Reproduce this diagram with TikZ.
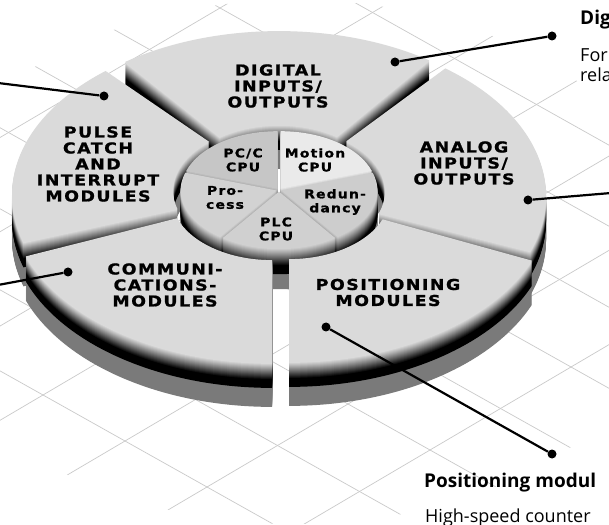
\documentclass[tikz,border=0pt]{standalone}
\usepackage{fontspec}
\setmainfont{Open Sans}
\newfontfamily\lbl[FakeStretch=1.16,LetterSpace=10,FakeBold=1.2]{DejaVu Sans Bold}
\definecolor{topcol}{HTML}{DADADA}
\definecolor{sidecol}{HTML}{E4E4E4}
\definecolor{shadowgray}{HTML}{7A7A7A}
\definecolor{gridcol}{HTML}{CACACA}
\definecolor{pccol}{HTML}{C6C6C6}
\definecolor{motioncol}{HTML}{EAEAEA}
\definecolor{redcol}{HTML}{CDCDCD}
\definecolor{plccol}{HTML}{D0D0D0}
\definecolor{proccol}{HTML}{D2D2D2}
% outer annular sector: #1 start angle, #2 end angle, #3 dx, #4 dy
\newcommand\outerpath[4]{({279+#3+101*cos(#1)},{331.5+#4+63.63*sin(#1)}) -- ({279+#3+262*cos(#1)},{327+#4+161.9*sin(#1)}) arc[start angle=#1,end angle=#2,x radius=262,y radius=161.9] -- ({279+#3+101*cos(#2)},{331.5+#4+63.63*sin(#2)}) arc[start angle=#2,end angle=#1,x radius=101,y radius=63.63] -- cycle}
\newcommand\hubpath[4]{({279+#3},{334+#4}) -- ({279+#3+96*cos(#1)},{334+#4+57.6*sin(#1)}) arc[start angle=#1,end angle=#2,x radius=96,y radius=57.6] -- cycle}
\newcommand\outerslab[5]{%
  \foreach \z in {44,43,...,26}{\fill[shadowgray] \outerpath{#1}{#2}{#3}{(#4)-\z};}
  \foreach \z in {25,24,...,17}{\fill[black] \outerpath{#1}{#2}{#3}{(#4)-\z};}
  \foreach \z in {16,15,...,1}{\pgfmathsetmacro\p{100*(\z/17)^1.1}\fill[black!\p!sidecol] \outerpath{#1}{#2}{#3}{(#4)-\z};}
  \fill[#5] \outerpath{#1}{#2}{#3}{#4};}
\newcommand\hubslab[5]{%
  \foreach \z in {40,39,...,26}{\fill[shadowgray] \hubpath{#1}{#2}{#3}{(#4)-\z};}
  \foreach \z in {25,24,...,17}{\fill[black] \hubpath{#1}{#2}{#3}{(#4)-\z};}
  \foreach \z in {16,15,...,1}{\pgfmathsetmacro\p{100*(\z/17)^1.1}\fill[black!\p!#5] \hubpath{#1}{#2}{#3}{(#4)-\z};}
  \fill[#5] \hubpath{#1}{#2}{#3}{#4};}
\tikzset{
  gridline/.style={draw=gridcol, line width=0.7pt},
  lab/.style={font=\lbl\fontsize{15}{16}\selectfont, align=center, inner sep=0pt},
  hublab/.style={font=\lbl\fontsize{12}{14}\selectfont, align=center, inner sep=0pt},
  dot/.style={circle, fill=black, minimum size=9pt, inner sep=0pt},
  leader/.style={draw=black, line width=2.2pt},
  headtxt/.style={font=\bfseries\fontsize{19}{22}\selectfont, anchor=base west, inner sep=0pt},
  bodytxt/.style={font=\fontsize{18}{21}\selectfont, anchor=base west, inner sep=0pt}
}
\begin{document}
\begin{tikzpicture}[x=1pt,y=1pt]
\useasboundingbox (0,0) rectangle (609,524);
\clip (0,0) rectangle (609,524);
\fill[white] (0,0) rectangle (609,524);
% ground grid
\begin{scope}
\clip (295,262) ellipse [x radius=390, y radius=262];
\foreach \j in {-3,...,10}{\draw[gridline] ({125+82*(-8)+70.5*\j},{83+46*8+41.5*\j}) -- ({125+82*6+70.5*\j},{83-46*6+41.5*\j});}
\foreach \i in {-8,...,6}{\draw[gridline] ({125+82*\i-70.5*4},{83-46*\i-41.5*4}) -- ({125+82*\i+70.5*11},{83-46*\i+41.5*11});}
\end{scope}
% outer ring, back pieces
\outerslab{55}{126}{0}{4}{topcol}
\outerslab{130}{197}{-5}{2}{topcol}
\outerslab{-20}{52}{5}{1}{topcol}
% hub
\hubslab{90}{162}{-1.5}{1.2}{pccol}
\hubslab{18}{90}{1.5}{1.2}{motioncol}
\hubslab{162}{234}{-2.4}{-0.5}{proccol}
\hubslab{306}{378}{2.4}{-0.5}{redcol}
\hubslab{234}{306}{0}{-1.6}{plccol}
% outer ring, front pieces
\outerslab{200}{270}{-7}{-4}{topcol}
\outerslab{270}{338}{10}{-3}{topcol}
% labels on the ring
\node[lab] (digital) at (278,438) {DIGITAL\\INPUTS/\\OUTPUTS};
\node[lab] (pulse) at (98,360) {PULSE\\CATCH\\AND\\INTERRUPT\\MODULES};
\node[lab] (analog) at (464,361) {ANALOG\\INPUTS/\\OUTPUTS};
\node[lab] (comm) at (165,239) {COMMUNI-\\CATIONS-\\MODULES};
\node[lab] (posm) at (388,231.5) {POSITIONING\\MODULES};
% labels on the hub
\node[hublab] (pcc) at (243,364) {PC/C\\CPU};
\node[hublab] (motion) at (315,364) {Motion\\CPU};
\node[hublab] (redund) at (335,322) {Redun-\\dancy};
\node[hublab] (process) at (225,326.5) {Pro-\\cess};
\node[hublab] (plc) at (276,295) {PLC\\CPU};
% leader lines
\node[dot] (dA) at (395,462) {};
\node[dot] (dB) at (552,488) {};
\draw[leader] (dA) -- (dB);
\node[dot] (pA) at (104,428) {};
\coordinate (pB) at (-2,441);
\draw[leader] (pA) -- (pB);
\node[dot] (aA) at (528,324) {};
\coordinate (aB) at (611,331);
\draw[leader] (aA) -- (aB);
\node[dot] (cA) at (68,252) {};
\coordinate (cB) at (-2,239);
\draw[leader] (cA) -- (cB);
\node[dot] (qA) at (326,197) {};
\node[dot] (qB) at (552,70) {};
\draw[leader] (qA) -- (qB);
% side texts
\node[headtxt] (t1) at (580,499) {Dig};
\node[bodytxt] (t2) at (580,462) {For};
\node[bodytxt] (t3) at (580,442) {rela};
\node[headtxt] (t4) at (424,37) {Positioning modul};
\node[bodytxt] (t5) at (425,2) {High-speed counter};
\end{tikzpicture}
\end{document}
